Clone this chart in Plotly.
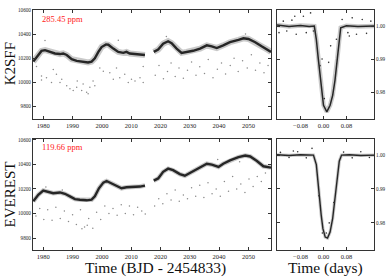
import plotly.graph_objects as go

# ---------------- data ----------------
# K2SFF light curve trend (BJD - 2454833, ppm-ish flux)
k2_t1 = [1976.6, 1978.3, 1979.4, 1980.6, 1982.3, 1984.0, 1985.7, 1986.8, 1988.0, 1989.7, 1991.4, 1993.6,
         1995.3, 1996.5, 1997.6, 1998.8, 1999.9, 2001.4, 2002.2, 2003.9, 2005.6, 2007.3, 2008.4, 2009.5,
         2011.3, 2013.0, 2014.7]
k2_f1 = [10173, 10227, 10261, 10267, 10253, 10240, 10235, 10240, 10227, 10192, 10179, 10173,
         10165, 10173, 10200, 10253, 10293, 10315, 10312, 10280, 10253, 10245, 10253, 10240,
         10235, 10232, 10227]
k2_t2 = [2017.7, 2019.2, 2020.9, 2022.6, 2023.8, 2025.5, 2027.2, 2028.9, 2031.1, 2033.5, 2035.8, 2037.5,
         2039.2, 2041.4, 2043.7, 2046.6, 2048.3, 2050.0, 2052.3, 2054.5, 2056.8, 2057.7]
k2_f2 = [10253, 10272, 10320, 10341, 10325, 10280, 10245, 10253, 10262, 10280, 10307, 10299,
         10285, 10307, 10333, 10352, 10365, 10360, 10333, 10299, 10267, 10253]
k2_out_t = [1977.7, 1979.4, 1979.4, 1981.1, 1982.8, 1983.4, 1984.5, 1985.7, 1986.3, 1988.0, 1989.1,
            1990.2, 1991.4, 1991.6, 1993.1, 1993.6, 1994.8, 1995.3, 1995.9, 1997.0, 1997.6, 1999.3,
            2000.5, 2002.7, 2003.9, 2005.0, 2006.1, 2007.8, 2009.0, 2010.1, 2011.3, 2013.0, 2014.1,
            2014.1, 1980.6, 2005.6, 2018.2, 2019.5, 2021.0, 2022.4, 2023.6, 2025.0, 2026.3, 2027.8,
            2029.2, 2030.6, 2032.1, 2033.4, 2035.0, 2036.3, 2037.9, 2039.4, 2040.8, 2042.2, 2043.8,
            2045.1, 2046.5, 2048.0, 2049.6, 2051.0, 2052.4, 2053.9, 2055.3, 2056.7, 2049.0, 2022.0]
k2_out_f = [10133, 10053, 10021, 10040, 10000, 10107, 10067, 10000, 10027, 9973, 9947,
            9933, 9960, 10013, 9933, 9987, 9920, 9907, 9960, 10013, 9973, 10120,
            10093, 10080, 10027, 10120, 10040, 10067, 10000, 10027, 10013, 10040, 10000,
            10133, 10347, 10350, 10060, 10140, 10030, 10090, 10160, 10050, 10120, 10035,
            10100, 10170, 10060, 10130, 10075, 10190, 10040, 10110, 10160, 10070, 10140,
            10200, 10090, 10180, 10120, 10230, 10100, 10160, 10080, 10140, 10400, 10380]

# EVEREST light curve trend
ev_t1 = [1976.6, 1978.3, 1980.0, 1981.7, 1983.4, 1985.7, 1987.4, 1989.1, 1990.8, 1992.5, 1994.8, 1996.5,
         1997.6, 1999.0, 2000.5, 2001.6, 2003.3, 2005.0, 2006.7, 2008.4, 2010.7, 2013.0, 2014.7]
ev_f1 = [10099, 10152, 10187, 10179, 10165, 10171, 10160, 10139, 10117, 10112, 10107, 10112,
         10139, 10205, 10251, 10264, 10245, 10224, 10205, 10213, 10213, 10219, 10227]
ev_t2 = [2017.7, 2019.2, 2020.9, 2022.6, 2024.3, 2026.6, 2028.3, 2030.1, 2033.5, 2035.8, 2037.5, 2039.8,
         2041.4, 2043.7, 2046.6, 2048.9, 2050.6, 2052.9, 2055.1, 2057.7]
ev_f2 = [10267, 10285, 10339, 10365, 10352, 10320, 10307, 10330, 10373, 10405, 10397, 10379,
         10405, 10432, 10459, 10472, 10464, 10427, 10384, 10373]
ev_out_t = [1977.5, 1978.8, 1980.2, 1981.5, 1983.0, 1984.3, 1985.8, 1987.2, 1988.6, 1990.0, 1991.3,
            1992.7, 1994.1, 1995.5, 1996.9, 1998.2, 1999.6, 2001.0, 2002.4, 2003.8, 2005.2, 2006.6,
            2008.0, 2009.4, 2010.8, 2012.2, 2013.6, 2014.8, 1980.9, 1986.5, 1993.2, 1995.0,
            2018.0, 2019.4, 2020.8, 2022.2, 2023.6, 2025.0, 2026.4, 2027.8, 2029.2, 2030.6, 2032.0,
            2033.4, 2034.8, 2036.2, 2037.6, 2039.0, 2040.4, 2041.8, 2043.2, 2044.6, 2046.0, 2047.4,
            2048.8, 2050.2, 2051.6, 2053.0, 2054.4, 2055.8, 2039.5, 2047.0]
ev_out_f = [9980, 10040, 9950, 10030, 9945, 10050, 9960, 10020, 9935, 9990, 9910,
            10030, 9890, 9960, 9880, 10010, 9950, 10060, 10000, 10040, 9985, 10070,
            10000, 10060, 9990, 10050, 10020, 9995, 10215, 10190, 9875, 9905,
            10060, 10120, 10080, 10160, 10110, 10190, 10100, 10150, 10120, 10210, 10140,
            10230, 10130, 10250, 10160, 10200, 10140, 10260, 10180, 10300, 10200, 10240,
            10170, 10280, 10220, 10300, 10260, 10330, 10440, 10420]

# Folded transits (days from mid-transit, normalised flux)
k2_ph = [-0.162, -0.120, -0.080, -0.050, -0.032, -0.025, -0.018, -0.0116, -0.0058, 0.000, 0.0116,
         0.023, 0.032, 0.040, 0.048, 0.055, 0.060, 0.080, 0.120, 0.176]
k2_fl = [1.0003, 0.9999, 1.0002, 0.9999, 1.0000, 0.9960, 0.9900, 0.9845, 0.9790, 0.9760, 0.9740,
         0.9760, 0.9790, 0.9835, 0.9900, 0.9960, 0.9995, 1.0001, 0.9999, 1.0000]
k2_sc_ph = [-0.155, -0.14, -0.128, -0.11, -0.095, -0.07, -0.06, -0.045, -0.035, -0.012, -0.005,
            0.003, 0.018, 0.025, 0.065, 0.085, 0.10, 0.115, 0.135, 0.15, 0.165, 0.045, 0.09, -0.1]
k2_sc_fl = [0.9980, 1.0015, 0.9985, 1.0018, 0.9975, 1.0030, 0.9980, 1.0040, 0.9985, 0.9880, 0.9900,
            0.9780, 0.9890, 0.9940, 1.0020, 0.9980, 1.0025, 0.9975, 1.0020, 0.9978, 1.0015, 0.9960, 0.9970, 1.0030]

ev_ph = [-0.162, -0.120, -0.080, -0.050, -0.035, -0.025, -0.020, -0.014, -0.008, -0.002, 0.006,
         0.014, 0.023, 0.032, 0.040, 0.048, 0.055, 0.063, 0.090, 0.130, 0.176]
ev_fl = [1.0001, 0.9999, 1.0001, 0.9999, 1.0000, 0.9972, 0.9922, 0.9873, 0.9823, 0.9783, 0.9758,
         0.9755, 0.9773, 0.9813, 0.9873, 0.9933, 0.9982, 1.0000, 1.0001, 0.9999, 1.0000]
ev_sc_ph = [-0.15, -0.12, -0.09, -0.06, -0.04, -0.016, -0.004, 0.010, 0.02, 0.036, 0.07, 0.10, 0.13, 0.16, -0.105]
ev_sc_fl = [1.0008, 0.9993, 1.0010, 0.9992, 1.0020, 0.9880, 0.9770, 0.9770, 0.9800, 0.9860, 1.0009, 0.9992,
            1.0010, 0.9993, 1.0012]

ppm_labels = ["285.45 ppm", "119.66 ppm"]
row_names = ["K2SFF", "EVEREST"]
x_ticks_left = [1980, 1990, 2000, 2010, 2020, 2030, 2040, 2050]
y_ticks_left = [9800, 10000, 10200, 10400, 10600]
x_ticks_right = [-0.08, 0.00, 0.08]
y_ticks_right = [0.98, 0.99, 1.00]

# ---------------- figure ----------------
W, H = 390, 279
FONT = "Liberation Serif"
fig = go.Figure()

line_col = "#262626"
halo_col = "rgba(60,60,60,0.28)"
dot_col = "#8a8a8a"

def lc(t, f, xa, ya, w, halo):
    fig.add_trace(go.Scatter(x=t, y=f, mode="lines", line=dict(color=halo_col, width=halo),
                             xaxis=xa, yaxis=ya, showlegend=False, hoverinfo="skip"))
    fig.add_trace(go.Scatter(x=t, y=f, mode="lines", line=dict(color=line_col, width=w),
                             xaxis=xa, yaxis=ya, showlegend=False, hoverinfo="skip"))

def dots(t, f, xa, ya, size=1.5, col=dot_col):
    fig.add_trace(go.Scatter(x=t, y=f, mode="markers", marker=dict(color=col, size=size),
                             xaxis=xa, yaxis=ya, showlegend=False, hoverinfo="skip"))

# top row
lc(k2_t1, k2_f1, "x", "y", 2.4, 6)
lc(k2_t2, k2_f2, "x", "y", 2.4, 6)
dots(k2_out_t, k2_out_f, "x", "y")
lc(k2_ph, k2_fl, "x2", "y2", 1.5, 4.5)
dots(k2_sc_ph, k2_sc_fl, "x2", "y2", 1.6, "#333333")
# bottom row
lc(ev_t1, ev_f1, "x3", "y3", 2.4, 4.5)
lc(ev_t2, ev_f2, "x3", "y3", 2.4, 4.5)
dots(ev_out_t, ev_out_f, "x3", "y3")
lc(ev_ph, ev_fl, "x4", "y4", 1.4, 3.2)
dots(ev_sc_ph, ev_sc_fl, "x4", "y4", 1.6, "#333333")

def px_x(a, b):
    return [a / W, b / W]

def px_y(top, bot):
    return [1 - bot / H, 1 - top / H]

ax_common = dict(showgrid=False, zeroline=False, showline=True, linecolor="#333333", linewidth=1,
                 mirror="ticks", ticks="inside", ticklen=3, tickcolor="#333333",
                 tickfont=dict(family=FONT, size=6.5, color="#222"))
small = {**ax_common, "tickfont": dict(family=FONT, size=5.2, color="#222")}

Lx = px_x(33, 271)
Rx = px_x(277, 374)
Ty = px_y(7, 117)
By = px_y(137, 250)

fig.update_layout(
    width=W, height=H, margin=dict(l=0, r=0, t=0, b=0),
    paper_bgcolor="white", plot_bgcolor="white",
    xaxis=dict(domain=Lx, anchor="y", range=[1976.5, 2057.7], tickvals=x_ticks_left, tickformat="d", **ax_common),
    yaxis=dict(domain=Ty, anchor="x", range=[9700, 10600], tickvals=y_ticks_left, tickformat="d", **small),
    xaxis2=dict(domain=Rx, anchor="y2", range=[-0.162, 0.176], tickvals=x_ticks_right, tickformat=".2f", **ax_common),
    yaxis2=dict(domain=Ty, anchor="x2", range=[0.9719, 1.0049], side="right", tickvals=y_ticks_right, tickformat=".2f", **small),
    xaxis3=dict(domain=Lx, anchor="y3", range=[1976.5, 2057.7], tickvals=x_ticks_left, tickformat="d", **ax_common),
    yaxis3=dict(domain=By, anchor="x3", range=[9700, 10610], tickvals=y_ticks_left, tickformat="d", **small),
    xaxis4=dict(domain=Rx, anchor="y4", range=[-0.162, 0.176], tickvals=x_ticks_right, tickformat=".2f", **ax_common),
    yaxis4=dict(domain=By, anchor="x4", range=[0.9719, 1.0049], side="right", tickvals=y_ticks_right, tickformat=".2f", **small),
)

ann = []
for i, (lab, name) in enumerate(zip(ppm_labels, row_names)):
    ya = "y domain" if i == 0 else "y3 domain"
    xa = "x domain" if i == 0 else "x3 domain"
    ann.append(dict(text=lab, x=0.03, y=0.985, xref=xa, yref=ya, xanchor="left", yanchor="top", showarrow=False,
                    font=dict(family=FONT, size=8.5, color="#ff1a1a")))
    ann.append(dict(text=name, x=10 / W, y=(Ty[0] + Ty[1]) / 2 if i == 0 else (By[0] + By[1]) / 2,
                    xref="paper", yref="paper", textangle=-90, showarrow=False,
                    xanchor="center", yanchor="middle",
                    font=dict(family=FONT, size=15, color="#111")))
ann.append(dict(text="Time (BJD - 2454833)", x=(Lx[0] + Lx[1]) / 2 + 0.01, y=1 - 268 / H, xref="paper", yref="paper",
                xanchor="center", yanchor="middle",
                showarrow=False, font=dict(family=FONT, size=15.5, color="#111")))
ann.append(dict(text="Time (days)", x=(Rx[0] + Rx[1]) / 2, y=1 - 268 / H, xref="paper", yref="paper",
                xanchor="center", yanchor="middle",
                showarrow=False, font=dict(family=FONT, size=15.5, color="#111")))
fig.update_layout(annotations=ann)

fig.write_html("out.html", config={"displayModeBar": False},
               post_script="document.body.style.margin='0px';document.body.style.overflow='hidden';")
